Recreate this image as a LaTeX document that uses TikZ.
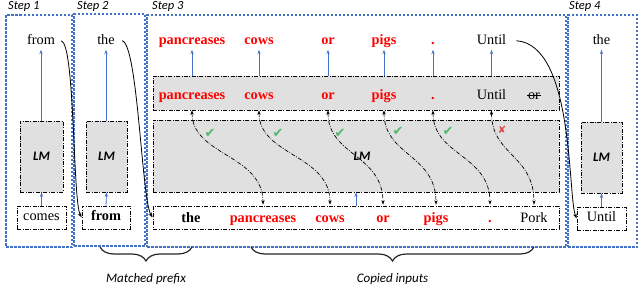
\documentclass[tikz,border=0pt]{standalone}
\usepackage{fontspec}
\setmainfont{Liberation Serif}
\newfontfamily\sansit{Carlito}
\newfontfamily\symf{DejaVu Sans}
\usetikzlibrary{arrows.meta,decorations.pathreplacing,calc}
\definecolor{stepblue}{RGB}{68,114,196}
\definecolor{lmgray}{RGB}{224,224,224}
\definecolor{okgreen}{RGB}{80,185,110}
\definecolor{badred}{RGB}{225,70,70}
\begin{document}
\begin{tikzpicture}[x=1pt,y=-1pt,
  stepbox/.style={draw=stepblue, line width=1.1pt, dash pattern=on 2.5pt off 1.5pt, inner sep=0pt},
  dd/.style={dash pattern=on 4pt off 1.5pt on 0.8pt off 1.5pt},
  lmbox/.style={draw=black, fill=lmgray, line width=0.7pt, dd, inner sep=0pt, font=\sansit\bfseries\itshape\fontsize{13}{14}\selectfont},
  inbox/.style={draw=black, fill=white, line width=0.7pt, dd, inner sep=0pt, text height=9.5pt, text depth=3pt, font=\fontsize{14.3}{16}\selectfont},
  word/.style={font=\fontsize{14.3}{16}\selectfont, text height=10pt, text depth=3.5pt, inner sep=2pt, anchor=base},
  rw/.style={word, text=red, font=\fontsize{14.3}{16}\selectfont\bfseries},
  bw/.style={word, font=\fontsize{14.3}{16}\selectfont\bfseries},
  steplabel/.style={font=\sansit\itshape\fontsize{12.5}{14}\selectfont, anchor=base west, inner sep=0pt},
  bracelabel/.style={font=\sansit\itshape\fontsize{13}{14}\selectfont, inner sep=0pt},
  bluearr/.style={draw=stepblue, line width=0.8pt, -{Stealth[length=4.5pt,width=3.2pt]}},
  ddarr/.style={draw=black, line width=0.7pt, dd, {Stealth[length=4.5pt,width=3.4pt]}-{Stealth[length=4.5pt,width=3.4pt]}},
  curvarr/.style={draw=black, line width=0.8pt, -{Stealth[length=5pt,width=3.6pt]}},
  bracestyle/.style={draw=black!85, line width=1.2pt, decorate, decoration={brace, mirror, amplitude=14pt}},
  okmark/.style={text=okgreen, font=\symf\fontsize{13}{13}\selectfont, inner sep=0pt},
  badmark/.style={text=badred, font=\symf\fontsize{10}{10}\selectfont, inner sep=0pt}
]
\useasboundingbox (0,0) rectangle (640,306);

% step boxes
\node[stepbox, minimum width=66pt, minimum height=232pt] (s1) at (39,131) {};
\node[stepbox, minimum width=71pt, minimum height=232pt] (s2) at (109.5,130) {};
\node[stepbox, minimum width=419pt, minimum height=232pt] (s3) at (356.5,131) {};
\node[stepbox, minimum width=69pt, minimum height=232pt] (s4) at (602.5,131) {};

\node[steplabel] (l1) at (8,9.5) {Step 1};
\node[steplabel] (l2) at (77,9.5) {Step 2};
\node[steplabel] (l3) at (152,9.5) {Step 3};
\node[steplabel] (l4) at (569,9.5) {Step 4};

% step 1
\node[word] (f1) at (41,44) {from};
\node[lmbox, minimum width=43pt, minimum height=71pt] (lm1) at (41.5,156.5) {LM};
\node[inbox, minimum width=49pt, minimum height=23pt] (in1) at (41.5,217.5) {comes};
\draw[bluearr] (f1.south |- lm1.north) -- (f1.south);
\draw[bluearr] (in1.north) -- (lm1.south);

% step 2
\node[word] (f2) at (106,44) {the};
\node[lmbox, minimum width=41pt, minimum height=71pt] (lm2) at (106.5,156.5) {LM};
\node[inbox, minimum width=48pt, minimum height=23pt, font=\fontsize{14.3}{16}\selectfont\bfseries] (in2) at (106,217.5) {from};
\draw[bluearr] (f2.south |- lm2.north) -- (f2.south);
\draw[bluearr] (in2.north) -- (lm2.south);

% step 4
\node[word] (f4) at (601.5,44) {the};
\node[lmbox, minimum width=41pt, minimum height=71pt] (lm4) at (601.5,157.5) {LM};
\node[inbox, minimum width=49pt, minimum height=23pt] (in4) at (601.5,218.5) {Until};
\draw[bluearr] (f4.south |- lm4.north) -- (f4.south);
\draw[bluearr] (in4.north) -- (lm4.south);

% step 3 boxes
\node[lmbox, minimum width=406pt, minimum height=34pt] (up) at (356,93) {};
\node[lmbox, minimum width=406pt, minimum height=72pt] (lm3) at (356,156) {};
\node[inbox, minimum width=406pt, minimum height=23pt] (in3) at (356,217.5) {};
\draw[bluearr] (in3.north) -- (lm3.south);

% step 3 top words
\node[rw] (t1) at (192,44) {pancreases};
\node[rw] (t2) at (259,44) {cows};
\node[rw] (t3) at (328,44) {or};
\node[rw] (t4) at (384,44) {pigs};
\node[rw] (t5) at (433,44) {.};
\node[word] (t6) at (491.5,44) {Until};
\foreach \i in {1,...,6} {\draw[bluearr] (t\i.south |- up.north) -- (t\i.south);}

% upper gray row
\node[rw] (u1) at (192,99) {pancreases};
\node[rw] (u2) at (259,99) {cows};
\node[rw] (u3) at (328,99) {or};
\node[rw] (u4) at (384,99) {pigs};
\node[rw] (u5) at (433,99) {.};
\node[word] (u6) at (491.5,99) {Until};
\node[word] (u7) at (534,99) {or};
\draw[line width=0.6pt] ([xshift=1.5pt,yshift=3.4pt]u7.base west) -- ([xshift=-1.5pt,yshift=3.4pt]u7.base east);

% bottom input row
\node[bw] (b0) at (191,222) {the};
\node[rw] (b1) at (263,222) {pancreases};
\node[rw] (b2) at (330,222) {cows};
\node[rw] (b3) at (383,222) {or};
\node[rw] (b4) at (436,222) {pigs};
\node[rw] (b5) at (490,222) {.};
\node[word] (b6) at (534,222) {Pork};

% dash-dot double arrows
\foreach \i in {1,...,6} {
  \draw[ddarr] (u\i.south |- up.south) .. controls +(0,45) and +(0,-50) .. ($(b\i.north |- in3.north)+(0,-1)$);
}

\node[lmbox, draw=none, fill=none] (lm3t) at (362,156) {LM};

% check marks
\node[okmark] (c1) at (210,133) {✔};
\node[okmark] (c2) at (278,133) {✔};
\node[okmark] (c3) at (340,133) {✔};
\node[okmark] (c4) at (398,131) {✔};
\node[okmark] (c5) at (448,131) {✔};
\node[badmark] (x6) at (502,130) {✘};

% curved copy arrows
\draw[curvarr] ([xshift=4pt]f1.east) .. controls +(14,2) and +(-9,-17) .. (in2.west);
\draw[curvarr] ([xshift=5pt]f2.east) .. controls +(16,2) and +(-11,-17) .. (in3.west);
\draw[curvarr] ([xshift=8pt]t6.east) .. controls +(58,4) and +(-9,-22) .. (in4.west);

% braces
\coordinate (mpL) at (100,247);
\coordinate (mpR) at (192,247);
\coordinate (ciL) at (251,247);
\coordinate (ciR) at (534,247);
\draw[bracestyle] (mpL) -- (mpR);
\draw[bracestyle] (ciL) -- (ciR);
\node[bracelabel] (mp) at (146,279) {Matched prefix};
\node[bracelabel] (ci) at (392.5,279) {Copied inputs};
\end{tikzpicture}
\end{document}
